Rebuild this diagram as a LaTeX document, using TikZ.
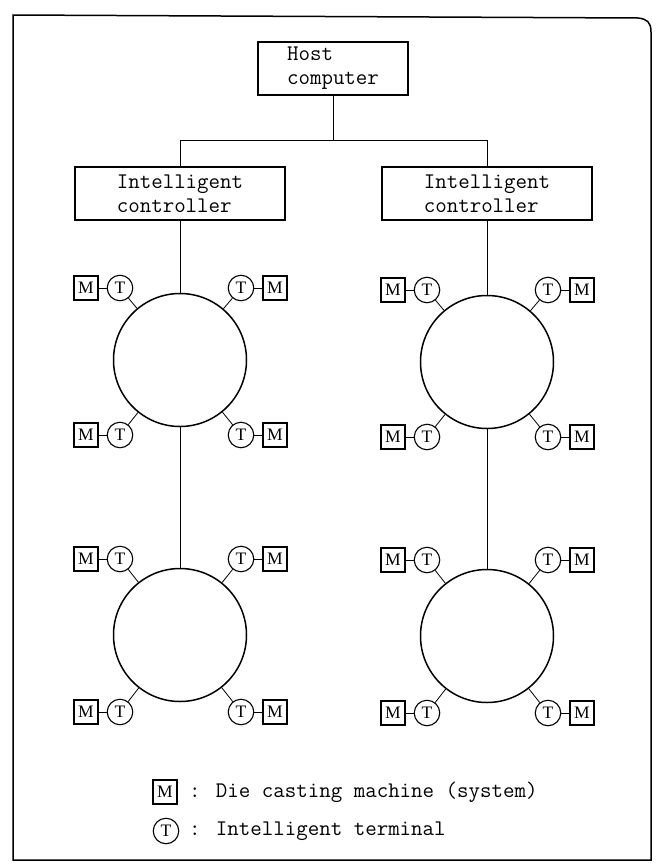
\documentclass[tikz,border=0pt]{standalone}
\usepackage{fontspec}
\setmainfont{Liberation Serif}
\begin{document}
\begin{tikzpicture}[x=1pt,y=-1pt,
  frame/.style={line width=1.5pt},
  boxnode/.style={draw,line width=1.3pt,inner sep=0pt,align=left,font=\ttfamily\fontsize{22.3}{24}\selectfont},
  ring/.style={draw,circle,line width=1.5pt,minimum size=133pt,inner sep=0pt},
  term/.style={draw,circle,line width=1.1pt,minimum size=25.5pt,inner sep=0pt,font=\fontsize{17.5}{17.5}\selectfont},
  mach/.style={draw,rectangle,line width=1.3pt,minimum size=24pt,inner sep=0pt,font=\fontsize{17.5}{17.5}\selectfont},
  conn/.style={line width=0.8pt},
  legtext/.style={anchor=west,inner sep=0pt,font=\ttfamily\fontsize{22.3}{24}\selectfont}]
\useasboundingbox (0,0) rectangle (662,865);
% frame
\draw[frame] (13,860) -- (13,15) -- (638,18) .. controls (647,19) and (651,22) .. (651,32) -- (651,860) -- cycle;

% host and controllers
\node[boxnode,minimum width=150pt,minimum height=53pt] (host) at (333,68.5) {Host\\computer};
\node[boxnode,minimum width=210pt,minimum height=53pt] (ctrlL) at (180,193.5) {Intelligent\\controller};
\node[boxnode,minimum width=210pt,minimum height=53pt] (ctrlR) at (487,193.5) {Intelligent\\controller};
\coordinate (jm) at (333,140);
\coordinate (jl) at (180,140);
\coordinate (jr) at (487,140);
\draw[conn] (host.south) -- (jm);
\draw[conn] (ctrlL.north) -- (jl) -- (jr) -- (ctrlR.north);

% ring units
\newcommand\ringunit[5]{%
  \node[ring] (#1) at (#2,#3) {};
  \node[term] (#1-tul) at (#2-60,#3-#4) {T};
  \node[mach] (#1-mul) at (#2-94,#3-#4) {M};
  \node[term] (#1-tur) at (#2+61,#3-#4) {T};
  \node[mach] (#1-mur) at (#2+95,#3-#4) {M};
  \node[term] (#1-tll) at (#2-60,#3+#5) {T};
  \node[mach] (#1-mll) at (#2-94,#3+#5) {M};
  \node[term] (#1-tlr) at (#2+61,#3+#5) {T};
  \node[mach] (#1-mlr) at (#2+95,#3+#5) {M};
  \draw[conn] (#1-mul) -- (#1-tul);
  \draw[conn] (#1-mur) -- (#1-tur);
  \draw[conn] (#1-mll) -- (#1-tll);
  \draw[conn] (#1-mlr) -- (#1-tlr);
  \draw[conn] (#1-tul) -- (#1);
  \draw[conn] (#1-tur) -- (#1);
  \draw[conn] (#1-tll) -- (#1);
  \draw[conn] (#1-tlr) -- (#1);
}
\ringunit{aL}{180}{360}{72}{75}
\ringunit{aR}{487}{362}{72}{75}
\ringunit{bL}{180}{635}{76}{77}
\ringunit{bR}{487}{636}{76}{77}

\draw[conn] (ctrlL.south) -- (aL.north);
\draw[conn] (ctrlR.south) -- (aR.north);
\draw[conn] (aL.south) -- (bL.north);
\draw[conn] (aR.south) -- (bR.north);

% legend
\node[mach] (legM) at (165,792) {M};
\node[term] (legT) at (166,831) {T};
\node[legtext] (legMt) at (189,792) {: Die casting machine (system)};
\node[legtext] (legTt) at (189,831) {: Intelligent terminal};
\end{tikzpicture}
\end{document}
